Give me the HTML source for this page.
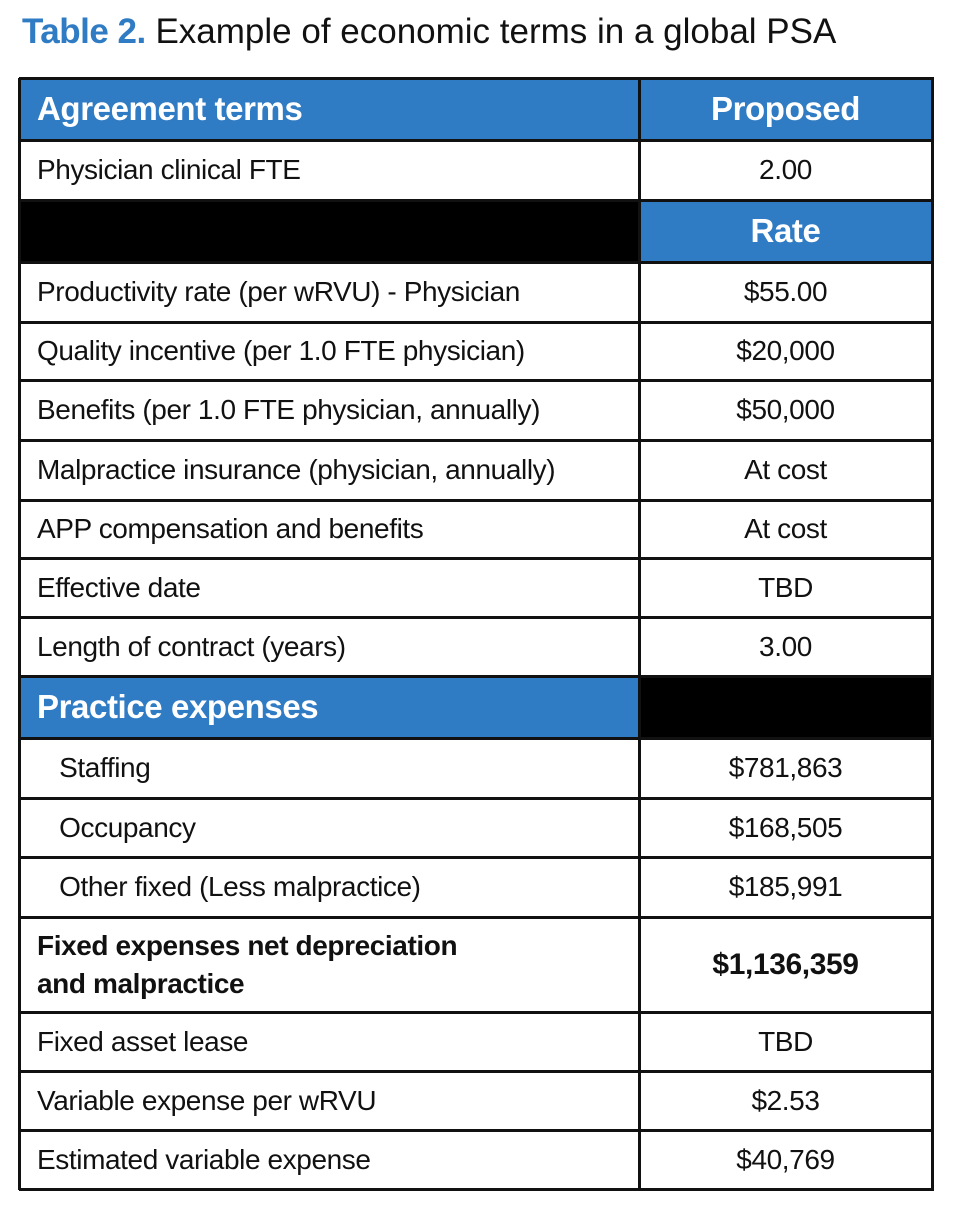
<!DOCTYPE html><html><head><style>
body{margin:0;width:956px;height:1216px;background:#fff;position:relative;font-family:"Liberation Sans",sans-serif;overflow:hidden}
.t{position:absolute;left:22px;top:12px;font-size:35px;color:#111;white-space:nowrap}
.t b{color:#2f7bc4;font-weight:900;letter-spacing:-0.5px}
.c{position:absolute;box-sizing:border-box;display:flex;align-items:center;font-size:28px;color:#111;white-space:nowrap;letter-spacing:-0.4px}
.l{padding-left:18px}
.r{justify-content:center}
.blue{background:#2f7bc4;color:#fff;font-weight:bold;font-size:33px}
.blk{background:#000}
.ln{position:absolute;background:#111}
</style></head><body>
<div class="t"><b>Table 2.</b> Example of economic terms in a global PSA</div>
<div id="tb"></div>
<script>
var ys=[78,140,200,262,322,380,440,500,558,617,676,738,798,857,917,1012,1071,1130,1189];
var rows=[
["Agreement terms","Proposed","bb"],
["Physician clinical FTE","2.00",""],
["","Rate","kb"],
["Productivity rate (per wRVU) - Physician","$55.00",""],
["Quality incentive (per 1.0 FTE physician)","$20,000",""],
["Benefits (per 1.0 FTE physician, annually)","$50,000",""],
["Malpractice insurance (physician, annually)","At cost",""],
["APP compensation and benefits","At cost",""],
["Effective date","TBD",""],
["Length of contract (years)","3.00",""],
["Practice expenses","","bk"],
["&nbsp;&nbsp;&nbsp;Staffing","$781,863",""],
["&nbsp;&nbsp;&nbsp;Occupancy","$168,505",""],
["&nbsp;&nbsp;&nbsp;Other fixed (Less malpractice)","$185,991",""],
["<span style='line-height:38px'>Fixed expenses net depreciation<br>and malpractice</span>","$1,136,359","bold"],
["Fixed asset lease","TBD",""],
["Variable expense per wRVU","$2.53",""],
["Estimated variable expense","$40,769",""]];
var L=19,M=639,R=932,h="";
rows.forEach(function(r,i){
 var y=ys[i],hh=ys[i+1]-y,s=r[2];
 var c1="c l",c2="c r",st1="",st2="";
 if(s=="bb"){c1+=" blue";c2+=" blue";}
 if(s=="kb"){c1+=" blk";c2+=" blue";}
 if(s=="bk"){c1+=" blue";c2+=" blk";}
 if(s=="bold"){st1="font-weight:bold;";st2="font-weight:bold;font-size:30px;";}
 h+='<div class="'+c1+'" style="'+st1+'left:'+L+'px;top:'+y+'px;width:'+(M-L)+'px;height:'+hh+'px">'+r[0]+'</div>';
 h+='<div class="'+c2+'" style="'+st2+'left:'+M+'px;top:'+y+'px;width:'+(R-M)+'px;height:'+hh+'px">'+r[1]+'</div>';
});
ys.forEach(function(y){h+='<div class="ln" style="left:'+L+'px;top:'+(y-1)+'px;width:'+(R-L+2)+'px;height:3px"></div>';});
[L,M,R].forEach(function(x){h+='<div class="ln" style="left:'+(x-1)+'px;top:'+ys[0]+'px;width:3px;height:'+(ys[ys.length-1]-ys[0]+1)+'px"></div>';});
document.getElementById("tb").innerHTML=h;
</script>
</body></html>
